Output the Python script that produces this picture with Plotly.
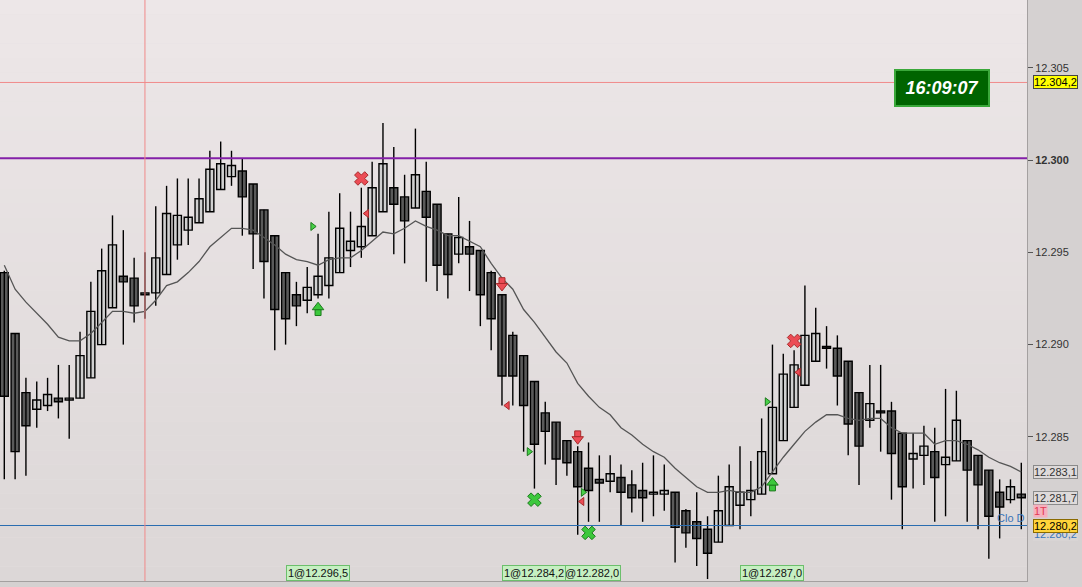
import plotly.graph_objects as go

# ---------------- data ----------------
opens = [12.2939, 12.2906, 12.2874, 12.2865, 12.2867, 12.2871, 12.2870, 12.2871, 12.2882, 12.2900,
         12.2920, 12.2937, 12.2936, 12.2928, 12.2928, 12.2938, 12.2954, 12.2962, 12.2966, 12.2972,
         12.2984, 12.2991, 12.2994, 12.2987, 12.2973, 12.2959, 12.2939, 12.2927, 12.2924, 12.2927,
         12.2932, 12.2939, 12.2951, 12.2953, 12.2959, 12.2972, 12.2985, 12.2980, 12.2974, 12.2983,
         12.2976, 12.2960, 12.2949, 12.2953, 12.2951, 12.2939, 12.2927, 12.2905, 12.2894, 12.2880,
         12.2863, 12.2858, 12.2848, 12.2842, 12.2833, 12.2827, 12.2826, 12.2828, 12.2824, 12.2821,
         12.2819, 12.2819, 12.2820, 12.2810, 12.2804, 12.2800, 12.2793, 12.2802, 12.2813, 12.2816,
         12.2819, 12.2830, 12.2848, 12.2866, 12.2878, 12.2891, 12.2899, 12.2898, 12.2891, 12.2874,
         12.2859, 12.2864, 12.2864, 12.2852, 12.2838, 12.2840, 12.2842, 12.2835, 12.2837, 12.2848,
         12.2840, 12.2832, 12.2820, 12.2816, 12.2819]
highs = [12.2940, 12.2906, 12.2882, 12.2880, 12.2882, 12.2889, 12.2889, 12.2907, 12.2934, 12.2952,
         12.2970, 12.2962, 12.2947, 12.2950, 12.2975, 12.2986, 12.2990, 12.2990, 12.2990, 12.3005,
         12.3010, 12.3005, 12.3001, 12.2987, 12.2973, 12.2959, 12.2939, 12.2934, 12.2942, 12.2960,
         12.2972, 12.2982, 12.2972, 12.2985, 12.2999, 12.3020, 12.3007, 12.2992, 12.3017, 12.2999,
         12.2976, 12.2960, 12.2980, 12.2967, 12.2951, 12.2940, 12.2927, 12.2907, 12.2894, 12.2880,
         12.2869, 12.2858, 12.2848, 12.2845, 12.2847, 12.2840, 12.2840, 12.2835, 12.2832, 12.2836,
         12.2840, 12.2835, 12.2820, 12.2811, 12.2820, 12.2807, 12.2829, 12.2835, 12.2845, 12.2837,
         12.2860, 12.2900, 12.2895, 12.2897, 12.2932, 12.2920, 12.2910, 12.2905, 12.2891, 12.2874,
         12.2889, 12.2889, 12.2869, 12.2852, 12.2852, 12.2856, 12.2855, 12.2876, 12.2875, 12.2848,
         12.2840, 12.2832, 12.2827, 12.2827, 12.2836]
lows = [12.2827, 12.2827, 12.2829, 12.2855, 12.2864, 12.2860, 12.2849, 12.2871, 12.2882, 12.2900,
        12.2920, 12.2900, 12.2912, 12.2914, 12.2921, 12.2938, 12.2946, 12.2954, 12.2966, 12.2972,
        12.2984, 12.2986, 12.2959, 12.2941, 12.2925, 12.2897, 12.2900, 12.2910, 12.2917, 12.2925,
        12.2925, 12.2939, 12.2942, 12.2947, 12.2959, 12.2972, 12.2949, 12.2944, 12.2974, 12.2934,
        12.2929, 12.2925, 12.2944, 12.2929, 12.2910, 12.2897, 12.2867, 12.2867, 12.2842, 12.2822,
        12.2835, 12.2824, 12.2829, 12.2797, 12.2804, 12.2804, 12.2820, 12.2802, 12.2809, 12.2804,
        12.2807, 12.2810, 12.2782, 12.2790, 12.2780, 12.2773, 12.2793, 12.2802, 12.2800, 12.2807,
        12.2819, 12.2830, 12.2848, 12.2866, 12.2878, 12.2891, 12.2887, 12.2867, 12.2840, 12.2824,
        12.2855, 12.2842, 12.2816, 12.2800, 12.2822, 12.2824, 12.2804, 12.2807, 12.2837, 12.2804,
        12.2800, 12.2784, 12.2795, 12.2814, 12.2800]
closes = [12.2872, 12.2842, 12.2856, 12.2870, 12.2873, 12.2869, 12.2871, 12.2894, 12.2918, 12.2940,
          12.2954, 12.2934, 12.2921, 12.2927, 12.2947, 12.2971, 12.2970, 12.2969, 12.2979, 12.2995,
          12.2998, 12.2997, 12.2980, 12.2960, 12.2945, 12.2919, 12.2914, 12.2921, 12.2931, 12.2937,
          12.2947, 12.2963, 12.2956, 12.2964, 12.2985, 12.2998, 12.2976, 12.2967, 12.2992, 12.2969,
          12.2943, 12.2938, 12.2958, 12.2949, 12.2927, 12.2914, 12.2883, 12.2883, 12.2867, 12.2846,
          12.2853, 12.2838, 12.2836, 12.2823, 12.2821, 12.2825, 12.2830, 12.2820, 12.2817, 12.2817,
          12.2820, 12.2821, 12.2801, 12.2798, 12.2795, 12.2787, 12.2810, 12.2823, 12.2820, 12.2821,
          12.2842, 12.2866, 12.2884, 12.2889, 12.2905, 12.2906, 12.2898, 12.2883, 12.2857, 12.2845,
          12.2868, 12.2863, 12.2841, 12.2823, 12.2841, 12.2845, 12.2828, 12.2839, 12.2859, 12.2832,
          12.2824, 12.2807, 12.2812, 12.2823, 12.2817]
ma = [12.2943, 12.2930, 12.2923, 12.2917, 12.2911, 12.2904, 12.2902, 12.2902, 12.2906, 12.2912,
      12.2918, 12.2918, 12.2917, 12.2918, 12.2924, 12.2932, 12.2934, 12.2939, 12.2945, 12.2953,
      12.2958, 12.2963, 12.2963, 12.2962, 12.2958, 12.2954, 12.2949, 12.2946, 12.2945, 12.2943,
      12.2946, 12.2947, 12.2947, 12.2951, 12.2956, 12.2961, 12.2960, 12.2963, 12.2967, 12.2964,
      12.2962, 12.2959, 12.2959, 12.2956, 12.2953, 12.2944, 12.2936, 12.2930, 12.2919, 12.2912,
      12.2904, 12.2896, 12.2890, 12.2879, 12.2872, 12.2866, 12.2862, 12.2855, 12.2851, 12.2846,
      12.2842, 12.2839, 12.2833, 12.2828, 12.2823, 12.2820, 12.2820, 12.2821, 12.2820, 12.2820,
      12.2823, 12.2831, 12.2839, 12.2846, 12.2853, 12.2858, 12.2862, 12.2862, 12.2860, 12.2859,
      12.2860, 12.2860, 12.2855, 12.2852, 12.2852, 12.2852, 12.2846, 12.2848, 12.2848, 12.2846,
      12.2843, 12.2839, 12.2836, 12.2834, 12.2831]

# signal markers (bar index, price)
up_arrow_x = [29, 71]
up_arrow_y = [12.2919, 12.2824]
down_arrow_x = [46, 53]
down_arrow_y = [12.2933, 12.2850]
red_x_x = [33, 73]
red_x_y = [12.2990, 12.2902]
green_x_x = [49, 54]
green_x_y = [12.2816, 12.2798]
green_tri_x = [28.5, 48.5, 53.5, 70.5]
green_tri_y = [12.2964, 12.2842, 12.2820, 12.2869]
red_tri_x = [33.5, 46.5, 53.4, 73.4]
red_tri_y = [12.2971, 12.2867, 12.2815, 12.2885]

# trade labels at the bottom
trade_x = [29, 54, 49, 71]
trade_text = ["1@12.296,5", "1@12.282,0", "1@12.284,2", "1@12.287,0"]

# levels
purple_level = 12.3001
pink_level = 12.3042
blue_level = 12.2802
crosshair_bar = 13
ma_last = 12.2831
last_close = 12.2817

ytick_vals = [12.285, 12.290, 12.295, 12.300, 12.305]
ytick_text = ["12.285", "12.290", "12.295", "<b>12.300</b>", "12.305"]

# ---------------- figure ----------------
n = len(opens)
idx = list(range(n))
Y0, Y1 = 12.277194, 12.308667
PLOT_H = 581
pxv = (Y1 - Y0) / PLOT_H
FONT = "Liberation Sans, Arial, sans-serif"

fig = go.Figure()

# wicks
wx, wy = [], []
for i in idx:
    wx += [i, i, None]
    wy += [lows[i], highs[i], None]
fig.add_trace(go.Scatter(x=wx, y=wy, mode="lines", line=dict(color="#000000", width=1.4),
                         hoverinfo="skip"))

# bodies
base = [min(o, c) for o, c in zip(opens, closes)]
hgt = [max(abs(c - o), 0.00004) for o, c in zip(opens, closes)]
cols = ["#d0d0d0" if c > o else "#5a5a5a" for o, c in zip(opens, closes)]
fig.add_trace(go.Bar(x=idx, y=hgt, base=base, width=0.74,
                     marker=dict(color=cols, line=dict(color="#000000", width=1.4)),
                     hoverinfo="skip"))

# moving average
fig.add_trace(go.Scatter(x=idx, y=ma, mode="lines", line=dict(color="#555555", width=1.3),
                         hoverinfo="skip"))

GREEN, GREEN_D = "#3cc83c", "#1c7a1c"
RED, RED_D = "#ec4c55", "#a82a2a"

# arrows: stem + head
fig.add_trace(go.Scatter(x=up_arrow_x, y=[v - 3 * pxv for v in up_arrow_y], mode="markers",
                         marker=dict(symbol="square", size=6, color=GREEN, line=dict(color=GREEN_D, width=1)),
                         hoverinfo="skip"))
fig.add_trace(go.Scatter(x=up_arrow_x, y=[v + 2.3 * pxv for v in up_arrow_y], mode="markers",
                         marker=dict(symbol="triangle-up", size=10, color=GREEN, line=dict(color=GREEN_D, width=1)),
                         hoverinfo="skip"))
fig.add_trace(go.Scatter(x=down_arrow_x, y=[v + 3 * pxv for v in down_arrow_y], mode="markers",
                         marker=dict(symbol="square", size=6, color=RED, line=dict(color=RED_D, width=1)),
                         hoverinfo="skip"))
fig.add_trace(go.Scatter(x=down_arrow_x, y=[v - 2.3 * pxv for v in down_arrow_y], mode="markers",
                         marker=dict(symbol="triangle-down", size=10, color=RED, line=dict(color=RED_D, width=1)),
                         hoverinfo="skip"))
# crosses
fig.add_trace(go.Scatter(x=red_x_x, y=red_x_y, mode="markers",
                         marker=dict(symbol="x", size=12, color=RED, line=dict(color=RED_D, width=1)),
                         hoverinfo="skip"))
fig.add_trace(go.Scatter(x=green_x_x, y=green_x_y, mode="markers",
                         marker=dict(symbol="x", size=12, color=GREEN, line=dict(color=GREEN_D, width=1)),
                         hoverinfo="skip"))
# small triangles
fig.add_trace(go.Scatter(x=green_tri_x, y=green_tri_y, mode="markers",
                         marker=dict(symbol="triangle-right", size=7, color="#48d048", line=dict(color=GREEN_D, width=1)),
                         hoverinfo="skip"))
fig.add_trace(go.Scatter(x=red_tri_x, y=red_tri_y, mode="markers",
                         marker=dict(symbol="triangle-left", size=7, color=RED, line=dict(color=RED_D, width=1)),
                         hoverinfo="skip"))

# background gradient bands
shapes = []
NB = 40
top = (237, 231, 232)
bot = (220, 215, 215)
for k in range(NB):
    t = (k + 0.5) / NB
    c = tuple(round(bot[j] + (top[j] - bot[j]) * t) for j in range(3))
    shapes.append(dict(type="rect", xref="paper", yref="paper", x0=0, x1=1,
                       y0=k / NB, y1=(k + 1) / NB, fillcolor="rgb(%d,%d,%d)" % c,
                       line=dict(width=0), layer="below"))
# levels
shapes.append(dict(type="line", xref="paper", x0=0, x1=1, yref="y", y0=pink_level, y1=pink_level,
                   line=dict(color="#f08a8a", width=1)))
shapes.append(dict(type="line", xref="paper", x0=0, x1=1, yref="y", y0=blue_level, y1=blue_level,
                   line=dict(color="#2a6db0", width=1)))
shapes.append(dict(type="line", xref="paper", x0=0, x1=1, yref="y", y0=purple_level, y1=purple_level,
                   line=dict(color="#8420a8", width=2)))
shapes.append(dict(type="line", xref="x", x0=crosshair_bar, x1=crosshair_bar, yref="paper", y0=0, y1=1,
                   line=dict(color="#f08a8a", width=1)))

annotations = []
# trade labels
for x, t in zip(trade_x, trade_text):
    annotations.append(dict(xref="x", x=x, yref="paper", y=0, yanchor="bottom", showarrow=False,
                            text=t, font=dict(family=FONT, size=11, color="#111111"),
                            bgcolor="#c6efc2", bordercolor="#6cbf6c", borderwidth=1, borderpad=1))
# clock
annotations.append(dict(xref="paper", x=942 / 1027, xanchor="center", yref="paper", y=1 - 88 / PLOT_H,
                        yanchor="middle", showarrow=False,
                        text="<b><i>16:09:07</i></b>", font=dict(family=FONT, size=18, color="#ffffff"),
                        bgcolor="#006400", bordercolor="#3aa83a", borderwidth=2, borderpad=6,
                        width=80, height=22))
# price tags on right axis
def tag(y, text, bg, border, fc, yshift=0):
    return dict(xref="paper", x=1, xanchor="left", xshift=6, yref="y", y=y, yshift=yshift,
                yanchor="middle", showarrow=False, text=text, font=dict(family=FONT, size=11, color=fc),
                bgcolor=bg, bordercolor=border, borderwidth=1, borderpad=0)

annotations.append(tag(pink_level, "12.304,2", "#ffff00", "#444444", "#000000"))
annotations.append(tag(ma_last, "12.283,1", "#dedada", "#8a8a8a", "#333333"))
annotations.append(tag(last_close, "12.281,7", "#dedada", "#8a8a8a", "#333333"))
annotations.append(tag(blue_level, "12.280,2", "#d8d4d4", "#d8d4d4", "#3a74b8", yshift=-8))
annotations.append(dict(xref="paper", x=1, xanchor="left", xshift=6, yref="y", y=blue_level, yshift=15,
                        yanchor="middle", showarrow=False, text="1T",
                        font=dict(family=FONT, size=11, color="#e23a55"),
                        bgcolor="#f6b0bd", borderpad=0))
annotations.append(tag(blue_level, "12.280,2", "#ffd43a", "#8a6a00", "#000000"))
annotations.append(dict(xref="paper", x=1, xanchor="right", yref="y", y=blue_level, yshift=8,
                        yanchor="middle", showarrow=False, text="Clo D",
                        font=dict(family=FONT, size=11, color="#3a74b8")))

fig.update_layout(
    width=1082, height=587,
    margin=dict(l=0, r=55, t=0, b=6, pad=0),
    paper_bgcolor="#d5d1d1",
    plot_bgcolor="#e6e1e1",
    showlegend=False,
    barmode="overlay",
    shapes=shapes,
    annotations=annotations,
    xaxis=dict(range=[-0.397, 94.527], showgrid=False, zeroline=False, showticklabels=False,
               ticks="", showline=True, linecolor="#a4a0a0", linewidth=1, fixedrange=True),
    yaxis=dict(range=[Y0, Y1], side="right", showgrid=False, zeroline=False,
               tickvals=ytick_vals, ticktext=ytick_text, ticks="outside", ticklen=5,
               tickcolor="#555555", tickfont=dict(family=FONT, size=11, color="#333333"),
               showline=True, linecolor="#a4a0a0", linewidth=1, fixedrange=True),
)

fig.write_html("out.html", config={"displayModeBar": False},
               post_script="document.body.style.margin='0';document.body.style.overflow='hidden';")
